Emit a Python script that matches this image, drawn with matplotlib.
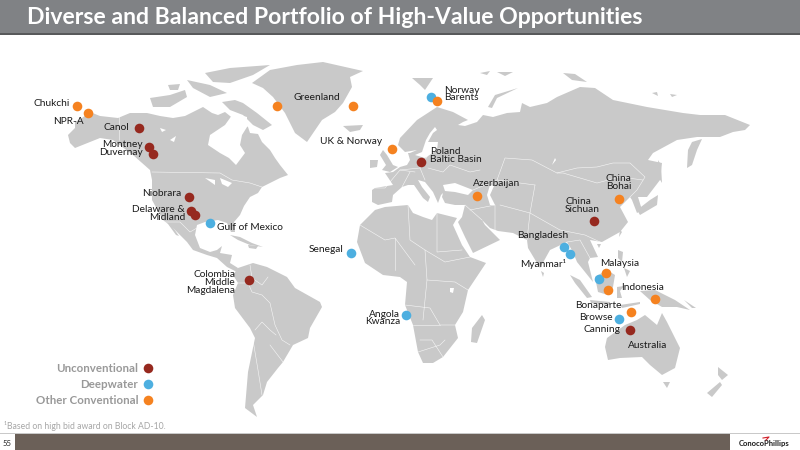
import matplotlib
matplotlib.use("Agg")
import matplotlib.pyplot as plt
import matplotlib.patches as patches

plt.rcParams['font.family'] = ['Lato', 'DejaVu Sans']

LAND = "#c9c9c9"
COLORS = {"Unconventional": "#96291f", "Deepwater": "#4dafe0", "Other Conventional": "#f58220"}

TITLE = "Diverse and Balanced Portfolio of High-Value Opportunities"
FOOTNOTE = "\u00b9Based on high bid award on Block AD-10."

# project locations, in picture pixels
unconv_x = [139, 149, 153, 189, 191, 195, 249, 421, 594, 630]
unconv_y = [128, 147, 154, 197, 211, 215, 280, 162, 221, 330]
deep_x = [210, 351, 431, 406, 564, 570, 599, 619]
deep_y = [223, 253, 97, 315, 247, 254, 279, 319]
other_x = [77, 88, 277, 353, 392, 437, 477, 619, 606, 608, 655, 631]
other_y = [106, 113, 106, 106, 149, 101, 196, 199, 273, 290, 299, 312]

legend_names = ["Unconventional", "Deepwater", "Other Conventional"]
legend_y = [368, 384, 400]

# text, x, y, alignment
labels = [
    ("Chukchi", 70, 104, "right"), ("NPR-A", 84, 122, "right"), ("Canol", 129, 127, "right"),
    ("Montney\nDuvernay", 143, 148.5, "right"), ("Niobrara", 181, 194, "right"),
    ("Delaware &\nMidland", 185, 213.5, "right"), ("Gulf of Mexico", 217, 228, "left"),
    ("Greenland", 293, 97, "left"), ("UK & Norway", 382, 142, "right"),
    ("Norway\nBarents", 444, 94, "left"), ("Poland\nBaltic Basin", 430, 155.5, "left"),
    ("Azerbaijan", 473, 183, "left"), ("China\nBohai", 606, 182.5, "left"),
    ("China\nSichuan", 565, 205.5, "left"), ("Bangladesh", 517, 235, "left"),
    ("Myanmar\u00b9", 520, 264, "left"), ("Malaysia", 600, 264, "left"), ("Indonesia", 621, 288, "left"),
    ("Bonaparte", 622, 305, "right"), ("Browse", 613, 318, "right"), ("Canning", 620, 330, "right"),
    ("Australia", 628, 345, "left"), ("Senegal", 343, 249, "right"), ("Angola\nKwanza", 400, 318, "right"),
    ("Colombia\nMiddle\nMagdalena", 235, 282.5, "right"),
]

# land outlines
land = [
    # north america
    [(90,112),(100,116),(118,118),(130,113),(147,113),(160,116),(173,118),(185,116),(197,110),(203,107),(212,113),(218,115),(225,112),(235,120),(248,127),(250,133),(258,134),(262,142),(270,150),(275,158),(280,165),(288,175),(280,178),(272,182),(262,187),(258,193),(250,197),(244,206),(240,215),(234,222),(235,232),(231,232),(227,223),(218,220),(205,222),(197,225),(195,235),(200,248),(210,252),(217,250),(222,246),(220,253),(232,255),(230,263),(238,268),(237,272),(227,267),(217,258),(207,255),(193,250),(187,242),(173,228),(163,220),(152,200),(152,180),(150,170),(133,155),(113,140),(100,138),(90,142),(75,148),(70,143),(68,135),(75,128),(75,122),(82,118)],
    [(168,224),(172,226),(179,236),(176,235)],
    # arctic canada
    [(222,102),(235,100),(243,103),(257,113),(272,125),(263,130),(253,125),(243,115),(230,110)],
    [(150,98),(170,95),(185,90),(187,97),(170,107),(153,107)],
    [(205,73),(230,68),(270,65),(253,75),(230,83),(213,82)],
    [(187,80),(210,85),(227,93),(210,97),(193,88)],
    [(168,85),(180,84),(178,90),(170,90)],
    # greenland, iceland
    [(252,83),(270,70),(297,65),(323,62),(363,71),(350,77),(352,87),(343,103),(335,112),(322,120),(307,142),(295,133),(285,113),(273,97),(263,88)],
    [(343,126),(363,125),(360,130),(350,132)],
    # caribbean
    [(230,235),(240,237),(252,243),(263,247),(250,245),(238,240)],
    [(248,245),(258,246),(256,249),(249,248)],
    # south america
    [(238,268),(253,263),(267,267),(287,277),(295,288),(320,302),(322,307),(310,328),(308,338),(293,345),(283,362),(278,368),(267,382),(263,395),(253,405),(257,417),(245,408),(248,372),(255,338),(250,328),(235,308),(233,295),(238,283),(233,275)],
    # africa
    [(357,242),(360,225),(375,210),(385,207),(408,205),(413,213),(423,217),(432,220),(437,213),(457,218),(453,225),(462,245),(470,257),(486,263),(468,290),(463,312),(455,325),(458,338),(443,357),(433,363),(423,363),(418,352),(413,325),(405,305),(407,282),(400,277),(383,275),(365,263)],
    [(482,315),(485,320),(477,343),(471,342),(472,328)],
    # eurasia
    [(372,202),(378,205),(392,202),(393,195),(402,187),(408,185),(414,185),(423,198),(428,202),(430,197),(422,187),(418,180),(425,182),(433,192),(438,203),(441,195),(443,193),(442,197),(445,203),(455,205),(465,205),(462,217),(458,222),(465,237),(473,253),(500,240),(493,233),(485,225),(482,220),(490,228),(498,231),(513,233),(527,240),(528,248),(540,268),(550,250),(567,242),(573,252),(577,262),(593,282),(588,262),(590,258),(598,257),(590,240),(602,242),(620,232),(628,222),(620,207),(630,197),(632,200),(637,213),(642,210),(638,197),(647,197),(660,180),(662,163),(648,160),(653,153),(677,140),(697,137),(720,137),(733,132),(745,130),(750,125),(725,115),(700,115),(683,113),(647,107),(613,100),(595,88),(580,87),(557,97),(547,103),(530,107),(522,103),(520,112),(507,113),(493,117),(483,115),(477,122),(465,126),(458,125),(463,122),(468,120),(453,112),(437,107),(417,120),(400,138),(398,145),(405,152),(417,150),(410,153),(408,153),(410,160),(407,165),(400,167),(393,172),(385,173),(393,185),(375,188),(372,190)],
    [(702,139),(697,150),(692,165),(687,168),(688,150),(692,142)],
    [(658,160),(661,165),(662,183),(659,178)],
    # uk, ireland
    [(383,150),(387,155),(393,165),(398,167),(390,172),(382,170),(386,165),(380,155)],
    [(370,160),(378,160),(377,167),(370,168)],
    # arctic russia, svalbard
    [(412,78),(433,78),(425,90),(420,85)],
    [(488,107),(495,95),(518,88),(497,98),(492,108)],
    [(563,73),(575,74),(587,82),(572,80)],
    [(652,93),(657,92),(658,96)],
    [(670,94),(677,95),(672,97)],
    [(480,73),(490,71),(487,75)],
    [(497,72),(513,72),(505,76)],
    # japan, taiwan, hainan
    [(658,195),(657,205),(640,215),(637,210),(650,200)],
    [(620,230),(622,232),(619,237)],
    [(597,244),(601,244),(599,248)],
    [(541,271),(544,273),(543,277)],
    # south east asia
    [(618,250),(623,252),(622,262),(618,258)],
    [(624,268),(630,271),(627,277)],
    [(570,275),(580,280),(592,297),(587,298),(575,283)],
    [(590,300),(610,302),(610,305),(591,303)],
    [(595,277),(607,270),(615,275),(613,287),(608,295),(598,292)],
    [(617,287),(624,286),(620,291),(622,298),(617,298)],
    [(620,305),(640,302),(640,304),(622,308)],
    [(640,291),(655,290),(675,300),(690,310),(677,307),(662,307),(650,300)],
    [(684,300),(696,308),(692,308)],
    # australia and around
    [(607,338),(625,325),(637,320),(645,315),(657,325),(662,313),(667,322),(680,348),(675,368),(662,375),(650,365),(642,357),(620,358),(608,360),(605,347)],
    [(663,382),(670,382),(667,388)],
    [(718,367),(728,375),(722,380),(718,375)],
    [(707,393),(720,382),(722,385),(712,397)],
]

# inland water and enclosed seas, painted over the land
water = [
    [(233,113),(247,117),(247,127),(242,135),(240,145),(245,153),(236,165),(229,158),(220,153),(208,145),(210,135),(225,125),(230,118)],
    [(435,127),(430,133),(426,140),(422,152),(415,155),(425,158),(437,150),(438,142),(428,142),(433,133),(437,130)],
    [(443,185),(455,183),(473,190),(468,195),(455,192),(445,191)],
    [(490,185),(494,186),(490,195),(495,205),(490,205),(487,195)],
    [(220,178),(232,183),(228,187),(222,184)],
    [(205,178),(215,180),(215,185)],
    [(450,288),(454,288),(453,293),(450,292)],
    [(555,158),(552,165),(556,160)],
    [(170,140),(176,136),(174,142)],
    [(160,128),(166,130),(162,132)],
]

# country borders, thin white lines
borders = [
    [(152,172),(220,173),(232,180),(250,183),(262,187)],
    [(119,115),(119,140)],
    [(165,222),(180,222),(190,232),(197,228)],
    [(238,283),(248,283),(252,292),(262,295),(270,303),(275,325),(282,340),(290,345)],
    [(250,265),(252,278),(262,285),(268,277)],
    [(255,330),(262,322),(270,330),(276,335)],
    [(253,340),(258,370),(262,395)],
    [(270,345),(283,362)],
    [(360,225),(385,240),(395,238),(415,265)],
    [(408,205),(410,240),(425,250),(427,280),(423,320)],
    [(437,213),(437,252),(462,250)],
    [(395,238),(395,270)],
    [(425,250),(445,262),(470,257)],
    [(405,305),(430,308),(440,325),(455,325)],
    [(413,325),(440,325)],
    [(418,352),(440,345),(445,340)],
    [(427,280),(455,282),(468,290)],
    [(375,188),(385,188),(400,170),(415,172)],
    [(400,170),(420,168),(428,155),(440,148)],
    [(428,168),(443,172),(450,165),(470,172),(480,170)],
    [(420,168),(425,180)],
    [(410,172),(402,187)],
    [(473,190),(497,180),(505,158),(532,160),(557,173),(577,168),(597,167),(613,163),(630,163),(645,177),(637,190),(630,197)],
    [(557,173),(563,173),(597,183),(620,177),(643,180)],
    [(535,185),(530,213),(560,230),(585,235),(600,242)],
    [(497,180),(535,185)],
    [(500,205),(530,213),(527,240)],
    [(470,210),(495,205),(495,232)],
    [(465,205),(482,220)],
    [(567,242),(580,240),(590,258)],
    [(443,357),(432,340),(420,340)],
]


def draw_map(ax):
    for outline in land:
        ax.add_patch(patches.Polygon(outline, closed=True, facecolor=LAND, edgecolor="none", zorder=1))
    for outline in water:
        ax.add_patch(patches.Polygon(outline, closed=True, facecolor="white", edgecolor="none", zorder=2))
    for line in borders:
        ax.plot([p[0] for p in line], [p[1] for p in line], color="white", lw=0.4, alpha=0.85, zorder=3)


def draw_frame(ax):
    ax.add_patch(patches.Rectangle((0, 0), 800, 33, facecolor="#808285", edgecolor="none", zorder=1))
    ax.add_patch(patches.Rectangle((0, 33), 800, 1.5, facecolor="#58595b", edgecolor="none", zorder=1))
    ax.add_patch(patches.Rectangle((0, 434), 800, 16, facecolor="#6b6058", edgecolor="none", zorder=1))
    ax.add_patch(patches.Rectangle((0, 433), 800, 1, facecolor="#c9c9c9", edgecolor="none", zorder=1))
    ax.add_patch(patches.Rectangle((0, 434), 15, 16, facecolor="white", edgecolor="none", zorder=2))
    ax.add_patch(patches.Rectangle((730, 434), 70, 16, facecolor="white", edgecolor="none", zorder=2))
    ax.text(27, 17, TITLE, color="white", fontsize=16.55, fontweight="bold", va="center", ha="left", zorder=5)
    ax.text(7, 443, "55", color="#222222", fontsize=5.5, va="center", ha="center", zorder=5)
    ax.text(764, 443.5, "ConocoPhillips", color="#1a1a1a", fontsize=5.5, fontweight="bold", va="center", ha="center", zorder=5)
    ax.plot([763, 769, 766], [438, 437, 440], color="#d0202a", lw=0.8, zorder=5)
    ax.text(4, 426, FOOTNOTE, color="#a6a6a6", fontsize=6.2, va="center", ha="left", zorder=5)


fig = plt.figure(figsize=(8, 4.5), dpi=100)
ax = fig.add_axes([0, 0, 1, 1])
ax.set_xlim(0, 800)
ax.set_ylim(450, 0)
ax.axis("off")

draw_map(ax)
draw_frame(ax)

ax.scatter(unconv_x, unconv_y, s=48, color=COLORS["Unconventional"], linewidths=0, zorder=6)
ax.scatter(deep_x, deep_y, s=48, color=COLORS["Deepwater"], linewidths=0, zorder=6)
ax.scatter(other_x, other_y, s=48, color=COLORS["Other Conventional"], linewidths=0, zorder=7)

for text, x, y, align in labels:
    ax.text(x, y, text, color="#1a1a1a", fontsize=7.3, ha=align, va="center", multialignment=align,
            linespacing=0.85, zorder=8)

# legend, bottom left
for name, y in zip(legend_names, legend_y):
    ax.text(138, y, name, color="#999999", fontsize=8.3, fontweight="bold", ha="right", va="center", zorder=8)
    ax.scatter([148], [y], s=48, color=COLORS[name], linewidths=0, zorder=8)

fig.savefig("out.png", dpi=100)
